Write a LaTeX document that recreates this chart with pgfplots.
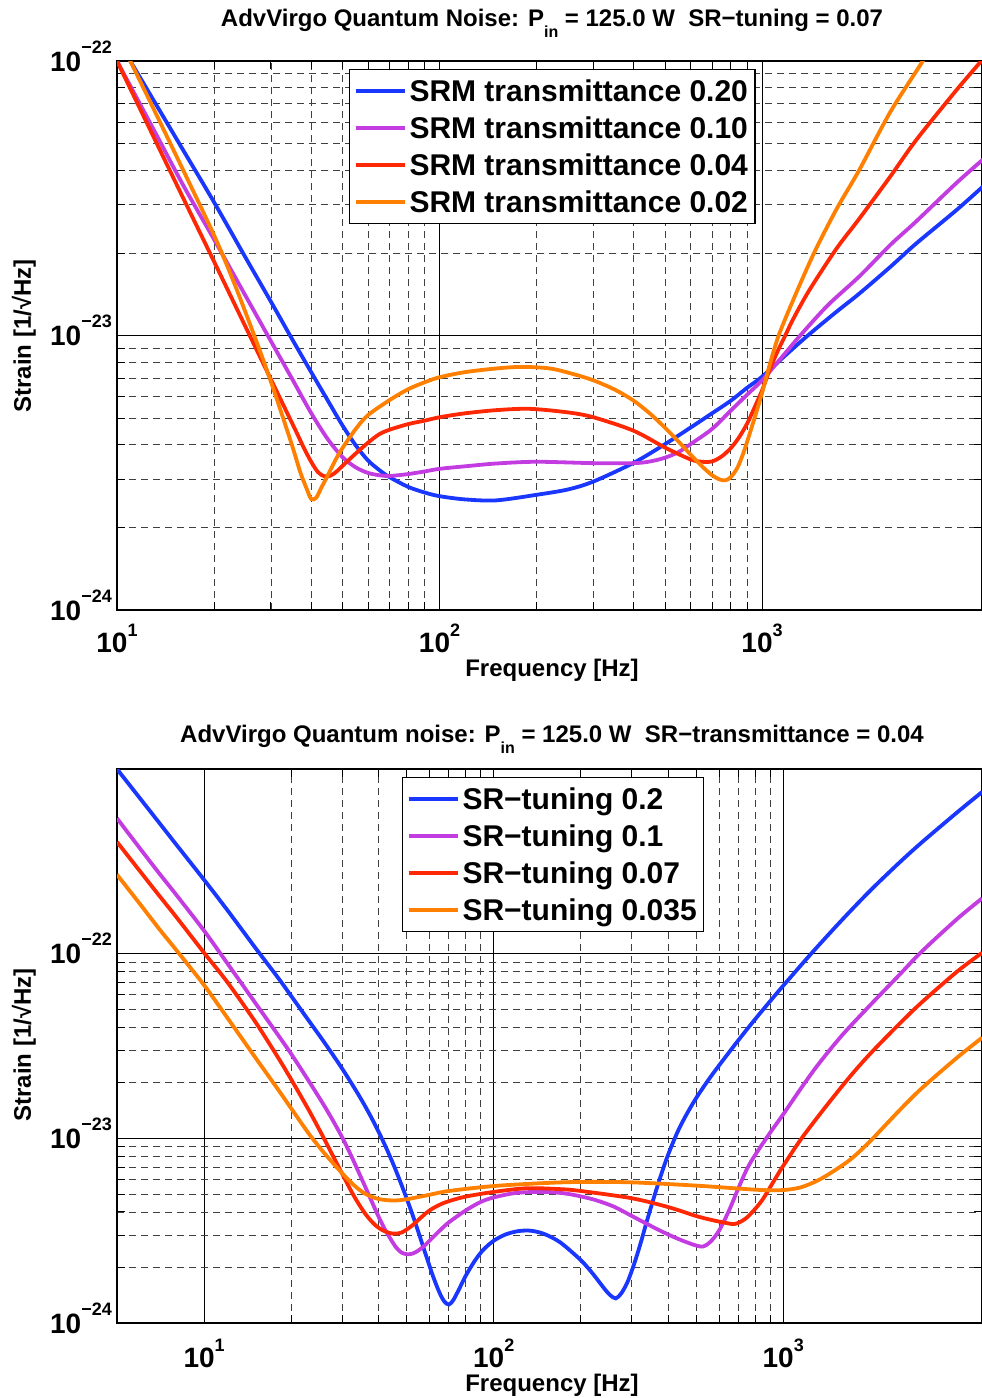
\documentclass[border=0pt]{standalone}
\usepackage{fontspec}
\setmainfont{Liberation Sans}
\usepackage{pgfplots}
\pgfplotsset{compat=1.18}
\definecolor{cblue}{RGB}{25,55,255}
\definecolor{cpurp}{RGB}{195,60,225}
\definecolor{cred}{RGB}{255,40,5}
\definecolor{corange}{RGB}{255,128,0}
\newcommand{\tlx}[1]{10\raisebox{16pt}{\fontsize{18}{18}\selectfont#1}}
\newcommand{\tly}[1]{10\raisebox{18pt}{\fontsize{18}{18}\selectfont#1}}
\pgfplotsset{
  legend image code/.code={\draw[#1, line width=4pt] (0pt,0pt) -- (45pt,0pt); \path (0pt,0pt) -- (49pt,0pt);},
}
\pgfplotsset{
  mystyle/.style={
    scale only axis,
    grid=both,
    major grid style={solid, black, line width=0.7pt},
    minor grid style={dash pattern=on 7pt off 5pt, black!75, line width=0.7pt},
    axis line style={black, line width=1.2pt},
    tick style={black, line width=0.8pt},
    tick align=inside,
    major tick length=12pt, minor tick length=8pt,
    ytick={1e-24,1e-23,1e-22},
    yticklabels={\tly{−24},\tly{−23},\tly{−22}},
    xtick={10,100,1000},
    xticklabels={\tlx{1},\tlx{2},\tlx{3}},
    xticklabel style={font=\fontsize{28}{28}\selectfont\bfseries, inner sep=0pt, anchor=base, yshift=-42pt},
    yticklabel style={font=\fontsize{28}{28}\selectfont\bfseries, inner sep=0pt, anchor=base east, xshift=-5pt, yshift=-10pt},
    legend cell align=left,
  },
  myplot/.style={line width=3.8pt, smooth, tension=0.5, mark=none},
  mylegend/.style={draw=black, line width=1.2pt, fill=white,
    font=\fontsize{30}{30}\selectfont\bfseries, inner xsep=4pt, inner ysep=3pt, row sep=0pt, column sep=0pt,
    nodes={inner xsep=3pt, inner ysep=4pt, text height=25pt, text depth=4pt}},
}
\begin{document}
\begin{tikzpicture}[x=1pt,y=1pt]
\useasboundingbox (0,0) rectangle (982,1398);
% ---------------- top plot ----------------
\begin{loglogaxis}[mystyle,
  at={(117pt,788pt)}, anchor=south west,
  width=865pt, height=549pt,
  xmin=10, xmax=4810, ymin=1e-24, ymax=1e-22,
  legend style={mylegend, at={(rel axis cs:0.2682,0.9854)}, anchor=north west},
]
\addplot[myplot, cblue] coordinates {(10,1.21e-22)(11,1.0e-22)(13,7.18e-23)(16,4.76e-23)(20,3.06e-23)(25,1.93e-23)(30,1.33e-23)(35,9.66e-24)(40,7.36e-24)(45,5.81e-24)(50,4.71e-24)(55,3.98e-24)(60,3.51e-24)(65,3.24e-24)(70,3.05e-24)(80,2.81e-24)(90,2.68e-24)(100,2.60e-24)(120,2.53e-24)(150,2.51e-24)(200,2.63e-24)(250,2.75e-24)(300,2.94e-24)(400,3.44e-24)(500,4.02e-24)(600,4.62e-24)(700,5.21e-24)(800,5.79e-24)(900,6.46e-24)(1000,7.08e-24)(1200,8.61e-24)(1400,1.01e-23)(1700,1.22e-23)(2000,1.42e-23)(2500,1.78e-23)(3000,2.16e-23)(4000,2.86e-23)(4866,3.51e-23)};
\addlegendentry{SRM transmittance 0.20}
\addplot[myplot, cpurp] coordinates {(10,1.0e-22)(13,5.62e-23)(16,3.55e-23)(20,2.24e-23)(25,1.40e-23)(30,9.55e-24)(35,6.92e-24)(40,5.22e-24)(45,4.20e-24)(50,3.61e-24)(55,3.31e-24)(60,3.16e-24)(65,3.10e-24)(70,3.08e-24)(80,3.13e-24)(90,3.20e-24)(100,3.27e-24)(120,3.34e-24)(150,3.42e-24)(200,3.47e-24)(300,3.43e-24)(400,3.43e-24)(450,3.48e-24)(500,3.59e-24)(550,3.76e-24)(600,4.02e-24)(700,4.57e-24)(800,5.33e-24)(900,6.10e-24)(1000,6.87e-24)(1150,8.32e-24)(1313,1.0e-23)(1600,1.29e-23)(2000,1.64e-23)(2500,2.14e-23)(3000,2.60e-23)(4000,3.59e-23)(4866,4.40e-23)};
\addlegendentry{SRM transmittance 0.10}
\addplot[myplot, cred] coordinates {(10,1.0e-22)(13,5.28e-23)(16,3.19e-23)(20,1.86e-23)(25,1.08e-23)(30,6.93e-24)(33,5.50e-24)(36,4.45e-24)(38,3.89e-24)(40,3.47e-24)(42,3.18e-24)(44,3.07e-24)(46,3.09e-24)(48,3.20e-24)(50,3.35e-24)(55,3.72e-24)(60,4.07e-24)(65,4.37e-24)(70,4.54e-24)(80,4.76e-24)(90,4.90e-24)(100,5.04e-24)(120,5.21e-24)(150,5.35e-24)(190,5.41e-24)(250,5.25e-24)(300,5.04e-24)(400,4.50e-24)(500,3.91e-24)(600,3.54e-24)(650,3.47e-24)(700,3.48e-24)(750,3.63e-24)(800,3.89e-24)(850,4.27e-24)(900,4.79e-24)(950,5.50e-24)(1000,6.31e-24)(1060,7.59e-24)(1120,8.81e-24)(1180,1.0e-23)(1250,1.15e-23)(1400,1.46e-23)(1700,2.07e-23)(2000,2.66e-23)(2500,3.80e-23)(3000,5.14e-23)(4000,7.82e-23)(4866,1.023e-22)};
\addlegendentry{SRM transmittance 0.04}
\addplot[myplot, corange] coordinates {(10,1.26e-22)(11,1.0e-22)(13,6.68e-23)(16,4.03e-23)(20,2.32e-23)(23,1.57e-23)(26,1.08e-23)(29,7.62e-24)(32,5.43e-24)(35,3.94e-24)(37,3.18e-24)(38.5,2.82e-24)(40,2.54e-24)(41.5,2.57e-24)(43,2.79e-24)(45,3.09e-24)(47.5,3.51e-24)(50,3.89e-24)(55,4.57e-24)(60,5.13e-24)(70,5.82e-24)(80,6.38e-24)(90,6.76e-24)(100,7.05e-24)(120,7.36e-24)(150,7.59e-24)(180,7.69e-24)(220,7.59e-24)(260,7.24e-24)(300,6.87e-24)(350,6.35e-24)(400,5.79e-24)(450,5.19e-24)(500,4.62e-24)(550,4.12e-24)(600,3.69e-24)(650,3.35e-24)(700,3.10e-24)(740,2.99e-24)(770,2.97e-24)(800,3.05e-24)(840,3.31e-24)(880,3.80e-24)(920,4.47e-24)(960,5.25e-24)(1000,6.17e-24)(1060,7.94e-24)(1126,1.0e-23)(1250,1.35e-23)(1450,2.0e-23)(1700,2.88e-23)(2000,4.0e-23)(2500,6.53e-23)(3150,1.0e-22)(3600,1.32e-22)};
\addlegendentry{SRM transmittance 0.02}
\end{loglogaxis}
% ---------------- bottom plot ----------------
\begin{loglogaxis}[mystyle,
  at={(117pt,75pt)}, anchor=south west,
  width=865pt, height=554pt,
  xmin=5, xmax=4860, ymin=1e-24, ymax=1e-21,
  xticklabel style={yshift=-2pt},
  legend style={mylegend, at={(rel axis cs:0.3295,0.9856)}, anchor=north west},
]
\addplot[myplot, cblue] coordinates {(5,1.0e-21)(6,6.95e-22)(7,5.11e-22)(8,3.91e-22)(10,2.51e-22)(12,1.73e-22)(15,1.08e-22)(18,7.41e-23)(20,5.89e-23)(23,4.33e-23)(26,3.31e-23)(30,2.38e-23)(34,1.74e-23)(37,1.38e-23)(40,1.09e-23)(43,8.55e-24)(46,6.67e-24)(50,4.75e-24)(53,3.68e-24)(56,2.84e-24)(59,2.21e-24)(62,1.76e-24)(65,1.46e-24)(67.5,1.31e-24)(70,1.26e-24)(72.5,1.33e-24)(76,1.53e-24)(80,1.80e-24)(86,2.17e-24)(92,2.49e-24)(100,2.79e-24)(110,3.02e-24)(122,3.15e-24)(135,3.16e-24)(150,3.03e-24)(170,2.73e-24)(200,2.19e-24)(220,1.85e-24)(240,1.55e-24)(252,1.42e-24)(264,1.36e-24)(276,1.45e-24)(290,1.67e-24)(305,2.07e-24)(320,2.63e-24)(340,3.67e-24)(360,4.95e-24)(380,6.46e-24)(400,8.13e-24)(430,1.07e-23)(460,1.32e-23)(500,1.65e-23)(550,2.06e-23)(600,2.48e-23)(700,3.40e-23)(800,4.42e-23)(900,5.52e-23)(1000,6.71e-23)(1250,1.002e-22)(1600,1.53e-22)(2000,2.20e-22)(2500,3.08e-22)(3000,3.99e-22)(4000,5.85e-22)(4866,7.52e-22)};
\addlegendentry{SR−tuning 0.2}
\addplot[myplot, cpurp] coordinates {(5,5.41e-22)(6,3.72e-22)(7,2.72e-22)(8,2.09e-22)(10,1.33e-22)(12,8.91e-23)(15,5.43e-23)(18,3.63e-23)(20,2.86e-23)(23,2.04e-23)(26,1.50e-23)(28,1.23e-23)(30,1.01e-23)(32,8.22e-24)(34,6.68e-24)(36,5.47e-24)(38,4.52e-24)(40,3.78e-24)(42,3.24e-24)(44,2.86e-24)(46,2.57e-24)(48,2.41e-24)(50,2.36e-24)(52,2.37e-24)(54,2.43e-24)(57,2.58e-24)(60,2.79e-24)(65,3.16e-24)(70,3.51e-24)(80,4.07e-24)(90,4.52e-24)(100,4.79e-24)(120,5.07e-24)(150,5.13e-24)(180,5.01e-24)(220,4.68e-24)(260,4.27e-24)(300,3.80e-24)(350,3.35e-24)(400,3.02e-24)(450,2.79e-24)(500,2.63e-24)(530,2.60e-24)(560,2.75e-24)(600,3.16e-24)(650,4.07e-24)(700,5.37e-24)(750,6.84e-24)(800,8.13e-24)(900,1.07e-23)(1000,1.35e-23)(1150,1.86e-23)(1320,2.51e-23)(1600,3.63e-23)(2000,5.28e-23)(2500,7.59e-23)(3000,1.023e-22)(4000,1.55e-22)(4866,1.995e-22)};
\addlegendentry{SR−tuning 0.1}
\addplot[myplot, cred] coordinates {(5,4.03e-22)(6,2.80e-22)(7,2.06e-22)(8,1.585e-22)(10,1.01e-22)(12,7.05e-23)(15,4.29e-23)(18,2.74e-23)(20,2.08e-23)(23,1.42e-23)(26,9.91e-24)(30,6.41e-24)(33,4.84e-24)(36,3.91e-24)(39,3.39e-24)(42,3.14e-24)(45,3.05e-24)(48,3.09e-24)(52,3.35e-24)(56,3.72e-24)(60,4.07e-24)(65,4.37e-24)(70,4.57e-24)(80,4.84e-24)(100,5.13e-24)(130,5.37e-24)(170,5.31e-24)(200,5.19e-24)(300,4.74e-24)(400,4.25e-24)(500,3.80e-24)(560,3.63e-24)(620,3.51e-24)(680,3.44e-24)(740,3.67e-24)(800,4.15e-24)(850,4.68e-24)(900,5.42e-24)(950,6.24e-24)(1000,7.10e-24)(1157,1.0e-23)(1400,1.48e-23)(1700,2.16e-23)(2000,2.88e-23)(2500,4.12e-23)(3000,5.43e-23)(4000,8.04e-23)(4866,1.012e-22)};
\addlegendentry{SR−tuning 0.07}
\addplot[myplot, corange] coordinates {(5,2.68e-22)(6,1.86e-22)(7,1.36e-22)(8,1.05e-22)(10,6.75e-23)(12,4.52e-23)(15,2.75e-23)(18,1.84e-23)(20,1.45e-23)(23,1.06e-23)(26,8.32e-24)(30,6.46e-24)(33,5.56e-24)(36,5.01e-24)(40,4.70e-24)(45,4.61e-24)(50,4.68e-24)(60,4.95e-24)(70,5.19e-24)(100,5.52e-24)(150,5.73e-24)(200,5.81e-24)(300,5.78e-24)(500,5.55e-24)(700,5.35e-24)(850,5.25e-24)(1000,5.25e-24)(1150,5.43e-24)(1320,5.93e-24)(1500,6.68e-24)(1719,7.76e-24)(2000,9.68e-24)(2500,1.40e-23)(3000,1.86e-23)(4000,2.75e-23)(4866,3.51e-23)};
\addlegendentry{SR−tuning 0.035}
\end{loglogaxis}
% ---------------- titles and labels ----------------
\begin{scope}[every node/.style={font=\fontsize{24}{24}\selectfont\bfseries, inner sep=0pt}]
\node[anchor=base] at (552,1371) {AdvVirgo Quantum Noise: P\raisebox{-11pt}{\fontsize{16}{16}\selectfont in} = 125.0 W\ \ SR−tuning = 0.07};
\node[anchor=base] at (552,721) {Frequency [Hz]};
\node[anchor=base, rotate=90] at (31,1062) {Strain [1/√Hz]};
\node[anchor=base] at (552,655) {AdvVirgo Quantum noise: P\raisebox{-11pt}{\fontsize{16}{16}\selectfont in} = 125.0 W\ \ SR−transmittance = 0.04};
\node[anchor=base] at (552,6) {Frequency [Hz]};
\node[anchor=base, rotate=90] at (31,353) {Strain [1/√Hz]};
\end{scope}
\end{tikzpicture}
\end{document}
